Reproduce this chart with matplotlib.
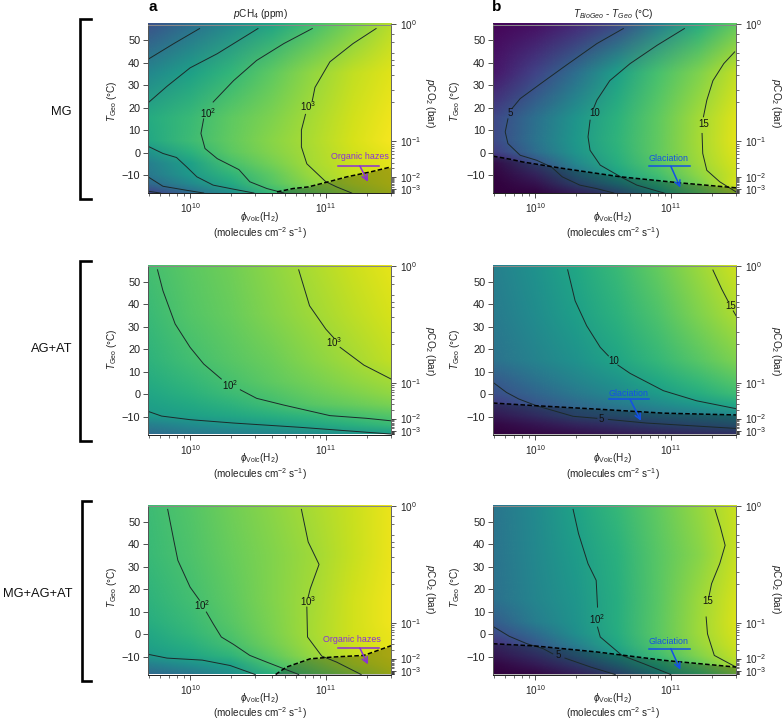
import matplotlib

matplotlib.use("Agg")

import matplotlib.pyplot as plt
import numpy as np
from matplotlib.colors import Normalize
from matplotlib.image import NonUniformImage
from matplotlib.lines import Line2D

plt.rcParams["font.family"] = ["Liberation Sans", "DejaVu Sans"]
plt.rcParams["mathtext.fontset"] = "custom"
plt.rcParams["mathtext.rm"] = "Liberation Sans"
plt.rcParams["mathtext.it"] = "Liberation Sans:italic"
plt.rcParams["mathtext.bf"] = "Liberation Sans:bold"
plt.rcParams["mathtext.fallback"] = "stix"

# grid the colour fields are read on: log10 of the H2 flux and T_Geo in deg C
LOG_PHI = [9.69, 10.0, 10.3, 10.6, 10.9, 11.2, 11.48]
T_GRID = [57, 35, 15, 5, 0, -5, -10, -14, -18]

# log10 pCH4 (ppm)
ch4_mg = [
    [-1.0, -0.25, 0.45, 1.2, 1.93, 2.6, 3.2],
    [0.4, 1.1, 1.7, 2.3, 2.85, 3.3, 3.6],
    [1.4, 1.8, 2.3, 2.65, 3.05, 3.45, 3.75],
    [1.3, 1.85, 2.35, 2.75, 3.1, 3.5, 3.8],
    [0.75, 1.55, 2.25, 2.7, 3.08, 3.45, 3.7],
    [0.2, 1.1, 2.0, 2.55, 3.05, 3.4, 3.65],
    [0.0, 0.9, 1.65, 2.3, 2.95, 3.35, 3.6],
    [-0.4, 0.5, 1.35, 2.15, 2.8, 3.25, 3.55],
    [-1.3, -0.3, 0.65, 1.75, 2.45, 3.0, 3.4],
]
ch4_ag = [
    [1.95, 2.25, 2.5, 2.8, 3.1, 3.4, 3.65],
    [1.8, 2.15, 2.4, 2.7, 2.98, 3.25, 3.5],
    [1.6, 1.93, 2.2, 2.45, 2.75, 3.03, 3.3],
    [1.4, 1.7, 2.02, 2.28, 2.55, 2.8, 3.0],
    [1.25, 1.55, 1.85, 2.12, 2.38, 2.62, 2.85],
    [1.1, 1.35, 1.6, 1.9, 2.2, 2.4, 2.6],
    [0.9, 1.1, 1.3, 1.5, 1.7, 1.95, 2.15],
    [0.2, 0.55, 0.8, 1.03, 1.3, 1.55, 1.8],
    [-0.3, 0.0, 0.2, 0.4, 0.6, 0.8, 1.0],
]
ch4_all = [
    [1.85, 2.17, 2.48, 2.78, 3.07, 3.38, 3.7],
    [1.78, 2.08, 2.38, 2.68, 2.98, 3.35, 3.7],
    [1.6, 1.92, 2.3, 2.68, 3.03, 3.45, 3.75],
    [1.45, 1.8, 2.2, 2.62, 3.05, 3.45, 3.75],
    [1.3, 1.7, 2.12, 2.58, 3.05, 3.45, 3.72],
    [1.15, 1.5, 1.95, 2.5, 3.0, 3.4, 3.68],
    [0.9, 1.25, 1.65, 2.3, 2.9, 3.35, 3.65],
    [0.2, 0.65, 1.1, 2.0, 2.6, 3.2, 3.55],
    [-0.35, 0.0, 0.7, 1.55, 2.3, 2.9, 3.4],
]

# T_BioGeo - T_Geo (deg C)
dt_mg = [
    [0.7, 1.2, 2.4, 4.1, 7.4, 10.7, 13.0],
    [1.5, 3.8, 6.5, 9.8, 12.2, 13.8, 15.5],
    [4.0, 6.6, 9.1, 11.1, 12.9, 14.7, 16.2],
    [4.1, 6.8, 9.3, 11.2, 13.0, 14.8, 16.3],
    [3.5, 6.4, 9.1, 11.1, 13.0, 14.7, 16.2],
    [1.2, 4.5, 8.2, 10.8, 12.7, 14.6, 16.0],
    [0.7, 2.8, 6.6, 10.0, 12.0, 14.2, 15.8],
    [0.5, 1.7, 4.9, 8.0, 11.2, 13.7, 16.0],
    [0.3, 0.8, 2.6, 5.2, 9.3, 12.8, 15.0],
]
dt_ag = [
    [7.7, 8.9, 10.3, 11.7, 13.1, 14.5, 15.8],
    [7.3, 8.5, 9.8, 11.1, 12.4, 13.8, 15.0],
    [6.7, 7.9, 8.9, 10.2, 11.5, 12.7, 13.8],
    [5.1, 6.6, 7.9, 9.0, 10.3, 11.5, 12.6],
    [4.5, 5.9, 7.2, 8.4, 9.6, 10.8, 11.9],
    [3.3, 5.0, 6.2, 7.3, 8.4, 9.4, 10.4],
    [2.0, 3.4, 5.1, 5.9, 6.7, 7.5, 8.2],
    [1.0, 1.9, 3.0, 3.9, 4.8, 5.5, 6.2],
    [0.5, 1.0, 1.5, 2.2, 2.8, 3.3, 3.8],
]
dt_all = [
    [6.9, 8.4, 10.1, 11.5, 13.0, 14.4, 15.7],
    [6.8, 8.2, 9.6, 11.0, 12.7, 14.0, 15.6],
    [6.6, 8.0, 9.2, 10.8, 12.7, 14.5, 16.0],
    [5.3, 7.5, 9.0, 10.8, 12.8, 14.6, 16.1],
    [4.3, 6.3, 8.7, 10.7, 12.8, 14.6, 16.0],
    [2.8, 5.1, 7.7, 10.4, 12.5, 14.4, 15.8],
    [1.8, 3.5, 6.1, 9.4, 11.9, 13.9, 15.5],
    [0.9, 2.2, 4.2, 7.2, 10.7, 13.0, 15.1],
    [0.4, 1.0, 2.6, 5.0, 8.8, 11.8, 14.0],
]

# contour lines as (log10 flux, T_Geo), broken at the labels
lines_ch4_mg = [
    [(9.69, 41.5), (9.88, 48.5), (10.07, 55.2)],
    [(9.69, 22.1), (9.83, 29.5), (10.0, 37.7), (10.2, 44), (10.5, 55.2)],
    [(10.90, 55.2), (10.69, 48.5), (10.49, 41), (10.32, 32), (10.17, 22.5)],
    [(10.10, 15), (10.08, 8.5), (10.11, 1.8), (10.2, -2.7), (10.36, -7.6),
     (10.44, -13), (10.565, -16), (10.69, -18)],
    [(11.37, 55.2), (11.20, 48.5), (11.03, 40.4), (10.92, 29), (10.90, 23)],
    [(10.85, 17), (10.82, 10), (10.82, 2.5), (10.86, -5), (11.0, -13),
     (11.08, -15.3), (11.19, -18)],
    [(9.69, 2.8), (9.80, -0.4), (9.90, -2.2), (9.975, -6.4), (10.05, -10.8),
     (10.17, -14.5), (10.32, -16.3), (10.47, -18)],
    [(9.69, -10.8), (9.80, -15), (9.975, -16.8), (10.1, -18)],
    [(9.69, -17.2), (9.78, -18)],
]
lines_dt_mg = [
    [(10.65, 55.2), (10.455, 48.5), (10.23, 38.9), (10.06, 31.5), (9.89, 24), (9.83, 19.6)],
    [(9.80, 15), (9.78, 9.2), (9.80, 4), (9.89, -1.2), (10.01, -3.4), (10.12, -6.4),
     (10.2, -10.8), (10.33, -14.5), (10.45, -16), (10.58, -18)],
    [(11.10, 55.2), (10.90, 47.8), (10.70, 39.6), (10.55, 32), (10.455, 23.3), (10.43, 19.6)],
    [(10.405, 14.4), (10.39, 7), (10.405, 1), (10.48, -5.6), (10.63, -10.8), (10.75, -14.5),
     (10.92, -17.5), (10.95, -18)],
    [(11.47, 44.8), (11.39, 39.6), (11.31, 32), (11.265, 23.3), (11.24, 15.9)],
    [(11.23, 8.5), (11.235, -0.4), (11.265, -7.9), (11.36, -13), (11.48, -17.5)],
]
lines_ch4_ag = [
    [(9.76, 55.3), (9.80, 46), (9.89, 31.2), (10.0, 20.8), (10.10, 13.4), (10.23, 6.7)],
    [(10.37, 1.9), (10.49, -1.9), (10.69, -4.9), (11.03, -9.6), (11.30, -10.8), (11.48, -11.9)],
    [(10.80, 55.3), (10.88, 39.3), (11.0, 28.9), (11.06, 24.9)],
    [(11.105, 20.8), (11.28, 12.9), (11.48, 6.7)],
    [(9.70, -7.9), (9.79, -9.8), (10.0, -11.4), (10.32, -12.9), (10.81, -14.8), (11.48, -17.8)],
]
lines_dt_ag = [
    [(10.24, 55.3), (10.295, 41.5), (10.38, 30.4), (10.48, 20.8), (10.54, 17)],
    [(10.61, 12.9), (10.70, 9.2), (10.945, 1.5), (11.19, -3), (11.48, -6.5)],
    [(11.31, 55.2), (11.375, 46.7), (11.42, 41.5)],
    [(11.46, 37), (11.48, 34.9)],
    [(9.69, 5.2), (9.79, 0.7), (9.88, -2.2), (10.01, -5.2), (10.28, -9.9), (10.455, -10.8)],
    [(10.54, -11.3), (10.82, -12.9), (11.48, -15.3)],
]
lines_ch4_all = [
    [(9.835, 55.5), (9.88, 41.7), (9.91, 32.8), (10.0, 20.9), (10.07, 15)],
    [(10.12, 9.8), (10.17, 4.6), (10.23, -1.3), (10.32, -4.6), (10.44, -9.5),
     (10.565, -12.5), (10.80, -18)],
    [(10.82, 55.5), (10.87, 41), (10.95, 31), (10.885, 20.2), (10.87, 16.5)],
    [(10.86, 12), (10.865, -1.3), (10.97, -9.8), (11.08, -12.5), (11.26, -18)],
    [(9.69, -9), (9.83, -10.7), (10.09, -11.6), (10.295, -14), (10.48, -18)],
]
lines_dt_all = [
    [(10.28, 55.5), (10.32, 44.7), (10.39, 31.3), (10.45, 23.9), (10.46, 12)],
    [(10.46, 3.1), (10.48, -1.3), (10.64, -9.5), (10.80, -13.2), (11.0, -18)],
    [(11.325, 55.5), (11.365, 47.6), (11.40, 39.5), (11.36, 31.3), (11.30, 22.4), (11.28, 16.5)],
    [(11.26, 7.6), (11.27, 0.1), (11.32, -9.5), (11.48, -14.7)],
    [(9.69, 3.4), (9.81, -1), (9.94, -4.3), (10.06, -6.5), (10.13, -8.8)],
    [(10.22, -10.7), (10.41, -14.7), (10.59, -18)],
]

# contour labels: text, log10 flux, T_Geo
labels_ch4_mg = [(r"$10^{2}$", 10.13, 17.4), (r"$10^{3}$", 10.87, 20.6)]
labels_dt_mg = [("5", 9.82, 17.8), ("10", 10.44, 17.8), ("15", 11.24, 12.9)]
labels_ch4_ag = [(r"$10^{2}$", 10.295, 4.2), (r"$10^{3}$", 11.06, 23)]
labels_dt_ag = [("10", 10.58, 14.8), ("15", 11.44, 39.3), ("5", 10.49, -11.1)]
labels_ch4_all = [(r"$10^{2}$", 10.09, 12.9), (r"$10^{3}$", 10.87, 14.7)]
labels_dt_all = [(r"$10^{2}$", 10.46, 6.8), ("15", 11.27, 14.5), ("5", 10.17, -9.5)]

# dashed limits of the shaded regions
haze_mg = [(10.64, -17.5), (10.76, -16), (10.87, -15.3), (11.02, -13), (11.155, -10.8),
           (11.33, -8.6), (11.48, -6.4)]
haze_all = [(10.63, -18), (10.71, -14.7), (10.885, -11), (11.06, -10.2), (11.28, -9.5),
            (11.48, -5.2)]
ice_mg = [(9.69, -1.6), (9.82, -3), (9.91, -4.2), (10.21, -7.1), (10.63, -10.8),
          (11.07, -13.5), (11.48, -15.7)]
ice_ag = [(9.69, -4), (10.01, -5.2), (10.455, -6.7), (10.945, -8.5), (11.48, -9.3)]
ice_all = [(9.69, -4.3), (10.0, -5.3), (10.46, -8), (10.95, -11.7), (11.48, -14.7)]

# right axis: T_Geo where each pCO2 tick falls
co2_major_t = [57, 5, -10.9, -16.3]
co2_major_labels = [r"$10^{0}$", r"$10^{-1}$", r"$10^{-2}$", r"$10^{-3}$"]
co2_minor_t = [52.6, 49.2, 44.3, 41, 38.8, 34.4, 27.7, 22.5,
               4, 3, 2, 0.8, -0.5, -2.3, -4.5, -7,
               -11.3, -11.7, -12.2, -12.7, -13.2, -13.8, -14.5, -15.3,
               -16.6, -16.8, -17, -17.2, -17.4, -17.6, -17.8, -17.9]

ROW_NAMES = ["MG", "AG+AT", "MG+AG+AT"]
W, H = 782, 720
PURPLE = "#8a2fd8"
BLUE = "#1450e6"
FS = 7.2
GREY_TEXT = "#222222"

X_LEFT = [148, 493]
AX_W = 243
ROW_TOP = [24.5, 266, 506]
AX_H = 168.5


def px_axes(left, top):
    return [left / W, 1 - (top + AX_H) / H, AX_W / W, AX_H / H]


def fig_text(fig, x, y, s, **kw):
    kw.setdefault("fontsize", FS)
    kw.setdefault("ha", "center")
    kw.setdefault("va", "center")
    kw.setdefault("color", GREY_TEXT)
    fig.text(x / W, 1 - y / H, s, **kw)


def flux(points):
    arr = np.array(points, dtype=float)
    return 10 ** arr[:, 0], arr[:, 1]


def draw_field(fig, position, field, norm):
    # the field sits on a plain axes in log10 units, under the log axes
    back = fig.add_axes(position)
    image = NonUniformImage(back, interpolation="bilinear", cmap="viridis", norm=norm,
                            extent=(LOG_PHI[0], LOG_PHI[-1], T_GRID[-1], T_GRID[0]))
    image.set_data(np.array(LOG_PHI), np.array(T_GRID[::-1], dtype=float), np.array(field)[::-1])
    back.add_image(image)
    back.set_xlim(LOG_PHI[0], LOG_PHI[-1])
    back.set_ylim(-18, 57)
    back.axis("off")


def draw_panel(fig, position, field, norm, lines, labels, limit, note, note_color, note_pos):
    draw_field(fig, position, field, norm)
    ax = fig.add_axes(position)
    ax.patch.set_visible(False)
    ax.set_xscale("log")
    for line in lines:
        x, y = flux(line)
        ax.plot(x, y, color="#1c2a2a", lw=0.7)
    for text, lx, t in labels:
        ax.text(10**lx, t, text, fontsize=7, ha="center", va="center", color="#111111")
    if limit is not None:
        x, y = flux(limit)
        ax.fill_between(x, y, -18, color="black", alpha=0.27, lw=0)
        ax.plot(x, y, color="black", lw=1.1, ls=(0, (3, 1.5)))

    if note:
        lx0, lx1, t_line, lx_text, t_text, arrow = note_pos
        ax.plot([10**lx0, 10**lx1], [t_line, t_line], color=note_color, lw=1.1)
        ax.text(10**lx_text, t_text, note, color=note_color, fontsize=6.4, ha="center", va="center")
        ax.annotate("", xy=(10 ** arrow[2], arrow[3]), xytext=(10 ** arrow[0], arrow[1]),
                    arrowprops=dict(arrowstyle="->", color=note_color, lw=1.1,
                                    shrinkA=0, shrinkB=0))

    ax.set_xlim(10**9.69, 10**11.48)
    ax.set_ylim(-18, 57)
    ax.set_yticks([-10, 0, 10, 20, 30, 40, 50])
    ax.tick_params(axis="both", which="major", labelsize=7.9, length=3.5, width=0.6, pad=2,
                   color="#333333", labelcolor=GREY_TEXT)
    ax.tick_params(axis="x", which="major", pad=2.5, labelsize=FS)
    ax.tick_params(axis="x", which="minor", length=2, width=0.5, color="#333333")
    ax.xaxis.set_major_formatter(lambda v, pos: f"$10^{{{int(round(np.log10(v)))}}}$")
    ax.set_xticks([1e10, 1e11])

    right = ax.twinx()
    right.set_ylim(-18, 57)
    right.set_yticks(co2_major_t, co2_major_labels)
    right.set_yticks(co2_minor_t, minor=True)
    right.tick_params(axis="y", which="major", labelsize=FS, length=3.5, width=0.6, pad=3,
                      color="#333333", labelcolor=GREY_TEXT)
    right.tick_params(axis="y", which="minor", length=2, width=0.5, color="#333333")

    for axis in (ax, right):
        axis.spines["top"].set_color("#888888")
        axis.spines["right"].set_color("#666666")
        axis.spines["left"].set_color("#555555")
        axis.spines["bottom"].set_color("#222222")
        for spine in axis.spines.values():
            spine.set_linewidth(0.7)


fig = plt.figure(figsize=(W / 100, H / 100), dpi=100)
norm_ch4 = Normalize(-2.6, 3.9)
norm_dt = Normalize(0.5, 17)

ch4_fields = [ch4_mg, ch4_ag, ch4_all]
dt_fields = [dt_mg, dt_ag, dt_all]
ch4_lines = [lines_ch4_mg, lines_ch4_ag, lines_ch4_all]
dt_lines = [lines_dt_mg, lines_dt_ag, lines_dt_all]
ch4_labels = [labels_ch4_mg, labels_ch4_ag, labels_ch4_all]
dt_labels = [labels_dt_mg, labels_dt_ag, labels_dt_all]

# (line start, line end, T of line, lx of text, T of text, (arrow lx0, t0, lx1, t1))
haze_notes = [
    (11.09, 11.39, -5.9, 11.25, -1.9, (11.25, -5.9, 11.31, -13)),
    None,
    (11.09, 11.39, -6.2, 11.19, -2.4, (11.25, -6.2, 11.31, -13.5)),
]
ice_notes = [
    (10.84, 11.14, -6.1, 10.985, -2.7, (11.0, -6.1, 11.07, -15.6)),
    (10.545, 10.84, -2.4, 10.69, 0.3, (10.70, -2.4, 10.78, -11.9)),
    (10.84, 11.14, -6.5, 10.985, -3.1, (11.0, -6.5, 11.07, -15.9)),
]
haze_limits = [haze_mg, None, haze_all]
ice_limits = [ice_mg, ice_ag, ice_all]

title_y = [101, 349, 587]
xlab_y = [(217, 233), (458, 474), (698, 713)]

for row in range(3):
    top = ROW_TOP[row]
    note = haze_notes[row]
    draw_panel(fig, px_axes(X_LEFT[0], top), ch4_fields[row], norm_ch4, ch4_lines[row],
               ch4_labels[row], haze_limits[row], "Organic hazes" if note else "", PURPLE, note)
    draw_panel(fig, px_axes(X_LEFT[1], top), dt_fields[row], norm_dt, dt_lines[row],
               dt_labels[row], ice_limits[row], "Glaciation", BLUE, ice_notes[row])

    # axis labels placed by hand, they are off the axes centres in the original
    for x_tlab, x_xlab, x_co2 in ((112, 260, 430), (455, 613, 776)):
        fig_text(fig, x_tlab, title_y[row], r"$\mathit{T}_{\mathrm{Geo}}$ (°C)", rotation=90)
        fig_text(fig, x_xlab, xlab_y[row][0], r"$\phi_{\mathrm{Volc}}$(H$_2$)")
        fig_text(fig, x_xlab, xlab_y[row][1], r"(molecules cm$^{-2}$ s$^{-1}$)")
        fig_text(fig, x_co2, title_y[row] + 2, r"$\mathit{p}$CO$_2$ (bar)", rotation=270)

fig_text(fig, 260, 14, r"$\mathit{p}$CH$_4$ (ppm)")
fig_text(fig, 613, 14, r"$\mathit{T}_{\mathit{BioGeo}}$ - $\mathit{T}_{\mathit{Geo}}$ (°C)")
fig_text(fig, 153, 7, "a", fontsize=11, fontweight="bold", color="black")
fig_text(fig, 497, 7, "b", fontsize=11, fontweight="bold", color="black")

# brackets with the scenario names on the left
bracket_y = [(19, 199), (261, 441), (501, 681)]
bracket_x = [80, 80, 82]
name_y = [112, 349, 594]
for row, name in enumerate(ROW_NAMES):
    y0, y1 = bracket_y[row]
    x0 = bracket_x[row]
    xs = np.array([91, x0, x0, 91]) / W
    ys = 1 - np.array([y0, y0, y1, y1]) / H
    fig.add_artist(Line2D(xs, ys, color="black", lw=1.9, solid_joinstyle="miter"))
    fig_text(fig, 72, name_y[row], name, ha="right", fontsize=9.3, color="#111111")

fig.savefig("out.png", dpi=100)
plt.close(fig)
